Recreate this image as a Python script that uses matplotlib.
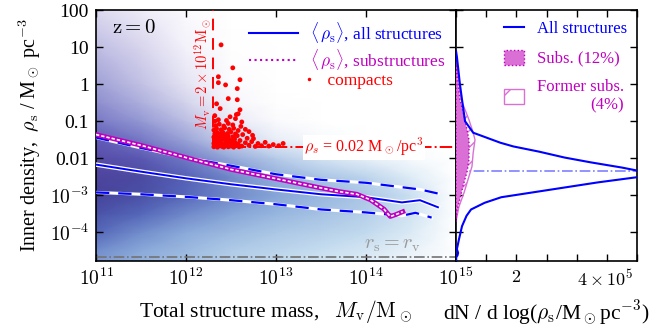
import numpy as np
import matplotlib
matplotlib.use('Agg')
import matplotlib.pyplot as plt
from matplotlib.colors import LinearSegmentedColormap
from matplotlib.lines import Line2D
from matplotlib.patches import Patch

plt.rcParams['font.family'] = ['Liberation Serif', 'DejaVu Serif']
plt.rcParams['mathtext.fontset'] = 'cm'
plt.rcParams['font.size'] = 12

# 2D histogram, read coarsely (log10 M columns, log10 rho rows, bottom -> top)
hist_logM = [11.0, 11.5, 12.0, 12.5, 13.0, 13.5, 14.0, 14.5, 15.0]
hist_logrho = [-4.77, -4.5, -4.0, -3.5, -3.0, -2.5, -2.0, -1.5, -1.0, -0.5, 0.0, 1.0, 2.0]
all_level = [
    [0.50, 0.42, 0.35, 0.28, 0.22, 0.17, 0.12, 0.06, 0.0],
    [0.55, 0.45, 0.38, 0.30, 0.25, 0.20, 0.15, 0.08, 0.0],
    [0.68, 0.55, 0.45, 0.38, 0.32, 0.27, 0.22, 0.13, 0.0],
    [0.80, 0.68, 0.56, 0.47, 0.40, 0.34, 0.28, 0.17, 0.0],
    [0.95, 0.82, 0.68, 0.56, 0.47, 0.40, 0.32, 0.19, 0.0],
    [1.00, 0.88, 0.70, 0.55, 0.42, 0.32, 0.24, 0.12, 0.0],
    [0.92, 0.75, 0.55, 0.38, 0.25, 0.15, 0.08, 0.03, 0.0],
    [0.70, 0.50, 0.28, 0.14, 0.06, 0.02, 0.0, 0.0, 0.0],
    [0.45, 0.28, 0.12, 0.04, 0.01, 0.0, 0.0, 0.0, 0.0],
    [0.28, 0.15, 0.05, 0.0, 0.0, 0.0, 0.0, 0.0, 0.0],
    [0.18, 0.08, 0.02, 0.0, 0.0, 0.0, 0.0, 0.0, 0.0],
    [0.08, 0.03, 0.0, 0.0, 0.0, 0.0, 0.0, 0.0, 0.0],
    [0.02, 0.0, 0.0, 0.0, 0.0, 0.0, 0.0, 0.0, 0.0],
]
sub_level = [
    [0.10, 0.05, 0.02, 0.0, 0.0, 0.0, 0.0, 0.0, 0.0],
    [0.10, 0.05, 0.02, 0.0, 0.0, 0.0, 0.0, 0.0, 0.0],
    [0.18, 0.10, 0.05, 0.02, 0.0, 0.0, 0.0, 0.0, 0.0],
    [0.35, 0.22, 0.12, 0.05, 0.02, 0.0, 0.0, 0.0, 0.0],
    [0.60, 0.42, 0.25, 0.10, 0.04, 0.02, 0.01, 0.0, 0.0],
    [0.80, 0.60, 0.40, 0.18, 0.07, 0.03, 0.02, 0.0, 0.0],
    [0.90, 0.72, 0.50, 0.25, 0.10, 0.04, 0.02, 0.0, 0.0],
    [0.88, 0.70, 0.48, 0.20, 0.07, 0.02, 0.0, 0.0, 0.0],
    [0.80, 0.60, 0.40, 0.13, 0.03, 0.0, 0.0, 0.0, 0.0],
    [0.72, 0.50, 0.30, 0.08, 0.01, 0.0, 0.0, 0.0, 0.0],
    [0.62, 0.42, 0.20, 0.04, 0.0, 0.0, 0.0, 0.0, 0.0],
    [0.45, 0.30, 0.10, 0.01, 0.0, 0.0, 0.0, 0.0, 0.0],
    [0.28, 0.15, 0.04, 0.0, 0.0, 0.0, 0.0, 0.0, 0.0],
]

# mean / percentile curves (log10 values)
med_logM = [11.0, 11.5, 12.0, 12.5, 13.0, 13.5, 14.0, 14.4, 14.6, 14.8]
med_logrho = [-2.17, -2.36, -2.54, -2.70, -2.84, -2.97, -3.05, -3.19, -3.13, -3.32]
hi_logrho = [-1.44, -1.72, -1.98, -2.20, -2.43, -2.58, -2.66, -2.78, -2.84, -2.95]
lo_logM = [11.0, 11.5, 12.0, 12.5, 13.0, 13.5, 14.0, 14.4, 14.55, 14.73]
lo_logrho = [-2.92, -2.97, -3.04, -3.13, -3.24, -3.38, -3.46, -3.55, -3.47, -3.60]
sub_logM = [11.0, 11.5, 12.0, 12.5, 13.0, 13.5, 13.71, 13.9, 14.05, 14.2, 14.27, 14.33, 14.41]
sub_logrho = [-1.36, -1.65, -1.98, -2.30, -2.55, -2.80, -2.90, -2.97, -3.12, -3.37, -3.57, -3.52, -3.44]

# compact structures (log10 M, log10 rho)
compact_logM = [
    12.31, 12.33, 12.35, 12.37, 12.40, 12.42, 12.44, 12.47, 12.50, 12.53, 12.56, 12.59, 12.62,
    12.31, 12.34, 12.36, 12.39, 12.41, 12.44, 12.46, 12.49, 12.52, 12.55, 12.58,
    12.32, 12.35, 12.37, 12.40, 12.43, 12.45, 12.48, 12.51, 12.54, 12.60,
    12.31, 12.33, 12.36, 12.39, 12.42, 12.44, 12.47, 12.52, 12.57,
    12.32, 12.35, 12.38, 12.41, 12.46, 12.50, 12.55, 12.63,
    12.31, 12.34, 12.39, 12.43, 12.48, 12.53, 12.58, 12.66,
    12.33, 12.37, 12.42, 12.47, 12.52, 12.61, 12.70,
    12.32, 12.36, 12.45, 12.55, 12.62, 12.74,
    12.66, 12.70, 12.73, 12.77, 12.80, 12.84, 12.88, 12.92, 12.97, 13.03, 13.08, 12.68, 12.75,
    12.39, 12.52, 12.36, 12.36, 12.60, 12.44, 12.57, 12.47, 12.57, 12.34, 12.60, 12.38, 12.58,
    12.56, 12.32, 12.49,
]
compact_logrho = [
    -1.69, -1.66, -1.70, -1.64, -1.68, -1.70, -1.65, -1.69, -1.67, -1.70, -1.66, -1.69, -1.67,
    -1.60, -1.57, -1.61, -1.58, -1.62, -1.57, -1.60, -1.56, -1.61, -1.58, -1.62,
    -1.52, -1.49, -1.53, -1.50, -1.47, -1.52, -1.49, -1.53, -1.48, -1.52,
    -1.43, -1.40, -1.44, -1.41, -1.38, -1.43, -1.40, -1.42, -1.39,
    -1.34, -1.31, -1.35, -1.30, -1.33, -1.29, -1.34, -1.36,
    -1.24, -1.20, -1.23, -1.18, -1.22, -1.19, -1.25, -1.22,
    -1.12, -1.08, -1.13, -1.06, -1.10, -1.14, -1.28,
    -1.00, -0.96, -0.98, -0.93, -1.02, -1.38,
    -1.58, -1.65, -1.55, -1.68, -1.60, -1.66, -1.57, -1.67, -1.63, -1.66, -1.60, -1.46, -1.47,
    1.06, 0.44, 0.20, 0.04, 0.12, -0.02, -0.12, -0.39, -0.42, -0.53, -0.69, -0.66, -0.80,
    -0.82, -0.85, -0.88,
]

# right panel distributions: log10 rho vs dN/dlog (units of 1e5)
all_dist_logrho = [0.9, 0.74, 0.0, -0.42, -1.0, -1.31, -1.58, -1.68, -1.82, -1.98, -2.11, -2.25,
                   -2.33, -2.42, -2.51, -2.65, -2.85, -3.05, -3.2, -3.38, -3.55, -3.83, -4.18,
                   -4.45, -4.55, -4.62, -4.67, -4.8]
all_dist_n = [0.0, 0.03, 0.13, 0.2, 0.3, 0.57, 1.47, 1.9, 2.75, 3.6, 4.47, 5.5,
              6.0, 6.4, 6.0, 4.7, 3.1, 1.5, 0.95, 0.5, 0.35, 0.2, 0.1,
              0.03, 0.07, 0.05, 0.0, 0.0]
sub_dist_logrho = [0.7, 0.0, -0.42, -0.96, -1.5, -2.03, -2.35, -2.76, -3.1, -3.38, -3.7]
sub_dist_n = [0.0, 0.07, 0.13, 0.3, 0.43, 0.43, 0.37, 0.23, 0.13, 0.04, 0.0]
former_dist_logrho = [0.7, -0.42, -0.96, -1.31, -1.5, -1.85, -2.22, -2.57, -2.92, -3.3, -3.7]
former_dist_n = [0.0, 0.17, 0.43, 0.57, 0.63, 0.57, 0.53, 0.40, 0.27, 0.10, 0.0]
peak_logrho = -2.35

fig = plt.figure(figsize=(6.69, 3.28), dpi=100)
ax = fig.add_axes([0.1435, 0.2043, 0.538, 0.7652])
axr = fig.add_axes([0.6816, 0.2043, 0.2706, 0.7652], sharey=ax)

# heatmap: blue layer for all structures with purple substructure tint on top
X, Y = np.meshgrid(10.0 ** np.array(hist_logM), 10.0 ** np.array(hist_logrho))
cmap_all = LinearSegmentedColormap.from_list(
    'all', [(0.0, (1, 1, 1)), (0.2, (0.78, 0.87, 0.94)), (0.45, (0.55, 0.68, 0.86)),
            (0.7, (0.3, 0.4, 0.72)), (1.0, (0.13, 0.17, 0.47))])
purple = np.array([0.42, 0.33, 0.72])
alpha_sub = 0.75 * np.array(sub_level)[..., None]
rgb = cmap_all(np.array(all_level))[..., :3] * (1 - alpha_sub) + purple * alpha_sub
ax.pcolormesh(X, Y, rgb, shading='gouraud', zorder=0)

# curves
mx = 10.0 ** np.array(med_logM)
ax.plot(mx, 10.0 ** np.array(med_logrho), color='white', lw=3.2, zorder=3)
ax.plot(mx, 10.0 ** np.array(med_logrho), color='blue', lw=1.4, zorder=4)
ax.plot(mx, 10.0 ** np.array(hi_logrho), color='white', lw=2.2, zorder=3)
ax.plot(mx, 10.0 ** np.array(hi_logrho), color='blue', lw=1.6, dashes=(6, 4), zorder=4)
lx = 10.0 ** np.array(lo_logM)
ax.plot(lx, 10.0 ** np.array(lo_logrho), color='white', lw=2.2, zorder=3)
ax.plot(lx, 10.0 ** np.array(lo_logrho), color='blue', lw=1.6, dashes=(6, 4), zorder=4)
sx = 10.0 ** np.array(sub_logM)
ax.plot(sx, 10.0 ** np.array(sub_logrho), color='m', lw=3.4, zorder=5)
ax.plot(sx, 10.0 ** np.array(sub_logrho), color='white', lw=1.2, dashes=(2, 1.2), zorder=6)

# compacts and thresholds
ax.scatter(10.0 ** np.array(compact_logM), 10.0 ** np.array(compact_logrho), s=12, color='red',
           edgecolors='none', zorder=7)
ax.plot([2e12, 2e12], [0.02, 100], color='red', ls='--', dashes=(6, 4), lw=1.4, zorder=6)
ax.plot([2e12, 1e15], [0.02, 0.02], color='red', ls='-.', lw=1.4, zorder=6)
ax.text(10 ** 12.19, 10 ** 0.28, r'$M_{\rm v} = 2\times10^{12}{\rm M}_\odot$', color='red',
        rotation=90, ha='center', va='center', fontsize=10.5, zorder=8)
ax.text(10 ** 13.98, 0.02, r'$\rho_s$ = 0.02 M$_\odot$/pc$^3$', color='red', ha='center',
        va='center', fontsize=11.5, zorder=8,
        bbox=dict(facecolor='white', edgecolor='none', pad=1))
ax.plot([1e11, 1e15], [10 ** -4.67, 10 ** -4.67], color='0.45', ls='-.', lw=1.2, zorder=2)
ax.text(10 ** 14.29, 10 ** -4.32, r'$r_{\rm s} = r_{\rm v}$', color='0.6', ha='center',
        va='center', fontsize=14.5)
ax.text(10 ** 11.42, 10 ** 1.49, r'$\rm z = 0$', color='black', ha='center', va='center', fontsize=15)

ax.set_xscale('log')
ax.set_yscale('log')
ax.set_xlim(1e11, 1e15)
ax.set_ylim(10 ** -4.77, 100)
ax.minorticks_off()
ax.set_xticks([1e11, 1e12, 1e13, 1e14, 1e15])
ax.set_xticklabels([r'$10^{11}$', r'$10^{12}$', r'$10^{13}$', r'$10^{14}$', r'$10^{15}$'])
ax.set_yticks([1e-4, 1e-3, 1e-2, 1e-1, 1, 10, 100])
ax.set_yticklabels([r'$10^{-4}$', r'$10^{-3}$', '0.01', '0.1', '1', '10', '100'])
ax.tick_params(direction='in', top=True, right=True, length=5, width=1, labelsize=14, pad=5)
ax.set_xlabel(r'Total structure mass,   $M_{\rm v}/{\rm M}_\odot$', fontsize=15.5, labelpad=6)
ax.set_ylabel(r'Inner density,  $\rho_{\rm s}$ / M$_\odot$ pc$^{-3}$', fontsize=14.5, labelpad=5)

handles = [Line2D([], [], color='blue', lw=1.5),
           Line2D([], [], color='m', lw=1.5, ls=':'),
           Line2D([], [], color='red', ls='none', marker='.', markersize=3)]
labels = [r'$\langle\,\rho_{\rm s}\rangle$, all structures',
          r'$\langle\,\rho_{\rm s}\rangle$, substructures', '    compacts']
leg_l = ax.legend(handles, labels, loc='upper right', frameon=False,
                  labelcolor=['blue', 'm', 'red'], handlelength=2.8, handletextpad=0.7,
                  labelspacing=0.1, borderaxespad=0.2, fontsize=12.5)
# compacts marker sits to the right of the line handles
leg_l.legend_handles[2].set_xdata([0, 43, 43])

# right panel
axr.axhline(10 ** peak_logrho, color='#8080ff', ls='-.', lw=1.2, zorder=1)
axr.fill_betweenx(10.0 ** np.array(former_dist_logrho), 0, np.array(former_dist_n) * 1e5,
                  facecolor='none', edgecolor='orchid', hatch='//', lw=1.0, zorder=2)
axr.fill_betweenx(10.0 ** np.array(sub_dist_logrho), 0, np.array(sub_dist_n) * 1e5,
                  facecolor='orchid', edgecolor='m', ls=':', lw=1.0, zorder=3)
axr.plot(np.array(all_dist_n) * 1e5, 10.0 ** np.array(all_dist_logrho), color='blue', lw=1.5, zorder=4)
axr.set_xlim(0, 6e5)
axr.set_xticks(np.arange(0, 7) * 1e5)
axr.set_xticklabels(['', '', r'$2$', '', r'$4\times10^5$', '', ''])
axr.get_xticklabels()[4].set_horizontalalignment('left')
axr.tick_params(direction='in', top=True, right=True, length=5, width=1, labelsize=13,
                labelleft=False, pad=6)
axr.minorticks_off()
axr.set_xlabel(r'dN / d log($\rho_{\rm s}$/M$_\odot$pc$^{-3}$)', fontsize=15.5, labelpad=6)

rhandles = [Line2D([], [], color='blue', lw=1.5),
            Patch(facecolor='orchid', edgecolor='m', ls=':'),
            Patch(facecolor='none', edgecolor='orchid', hatch='/')]
rlabels = ['All structures', 'Subs. (12%)', 'Former subs.\n(4%)']
leg = axr.legend(rhandles, rlabels, loc='upper right', frameon=False,
                 labelcolor=['blue', 'm', 'm'], handlelength=1.2, handleheight=1.0,
                 labelspacing=0.75, borderaxespad=0.2, fontsize=12)
leg.get_texts()[2].set_multialignment('right')

for a in (ax, axr):
    for s in a.spines.values():
        s.set_linewidth(1.2)

fig.savefig('out.png', dpi=100)
